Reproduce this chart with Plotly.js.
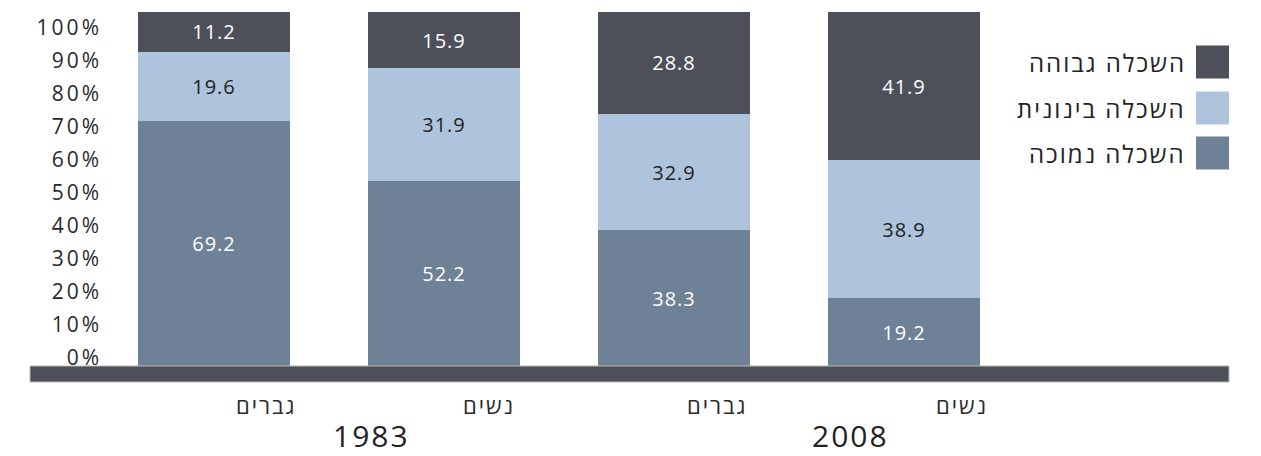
<!DOCTYPE html>
<html>
<head>
<meta charset="utf-8">
<script src="https://cdn.plot.ly/plotly-3.0.1.min.js"></script>
<style>
  html, body { margin: 0; padding: 0; background: #fff; }
  #chart { width: 1261px; height: 456px; }
  .y2tick text, .ytick text { letter-spacing: 3px; }
  text.bartext { letter-spacing: 1px; }
  text.annotation-text { letter-spacing: 2px; }
</style>
</head>
<body>
<div id="chart"></div>
<script>
// ---- data ----
const categories = ["גברים", "נשים", "גברים", "נשים"];
const years = ["1983", "2008"];
const yearGroups = [[0, 1], [2, 3]];
const seriesNames = ["השכלה נמוכה", "השכלה בינונית", "השכלה גבוהה"];
const lowEdu = [69.2, 52.2, 38.3, 19.2];
const midEdu = [19.6, 31.9, 32.9, 38.9];
const highEdu = [11.2, 15.9, 28.8, 41.9];
const yTickValues = [0, 10, 20, 30, 40, 50, 60, 70, 80, 90, 100];

// ---- style ----
const colors = ["#6e8197", "#aec4dc", "#4d5058"];
const textColors = ["#ffffff", "#222222", "#ffffff"];
const FONT = "'Open Sans', 'Noto Sans', 'DejaVu Sans', sans-serif";
const catShift = [52, 45, 43, 58];   // px offset of category labels (as in original)
const yearShift = [42, 61];          // px offset of year labels
const seriesValues = [lowEdu, midEdu, highEdu];
const xIdx = categories.map((c, i) => i);

const traces = seriesValues.map((vals, s) => ({
  type: "bar",
  x: xIdx,
  y: vals,
  name: seriesNames[s],
  marker: { color: colors[s], line: { width: 0 } },
  text: vals.map(v => v.toFixed(1)),
  textposition: "inside",
  insidetextanchor: "middle",
  textangle: 0,
  constraintext: "none",
  textfont: { family: FONT, size: 20, color: textColors[s] },
  hoverinfo: "skip",
  showlegend: false,
  width: 0.661
}));
// helper (no data) so that the percentage axis is drawn
traces.push({ type: "scatter", mode: "markers", x: [], y: [], yaxis: "y2",
  hoverinfo: "skip", showlegend: false });

// plot area geometry (pixels) : left 108, right 1228, top 12, bottom 366
const PL = 108, PR = 1228, PT = 12, PB = 366;
const PW = PR - PL, PH = PB - PT;
const px2x = p => (p - PL) / PW;
const py2y = p => (PB - p) / PH;

const shapes = [
  { type: "rect", xref: "paper", yref: "paper", x0: px2x(30), x1: px2x(1229), y0: py2y(366), y1: py2y(382),
    fillcolor: "#4d5058", line: { color: "#b8b8b8", width: 1 }, layer: "above" }
];
const annotations = [];

// legend (right-to-left: square on the right of the text)
const legendOrder = [2, 1, 0];
const legendCenters = [62, 108, 153];
legendOrder.forEach((s, k) => {
  const cy = legendCenters[k];
  shapes.push({ type: "rect", xref: "paper", yref: "paper",
    x0: px2x(1196), x1: px2x(1229), y0: py2y(cy + 16.5), y1: py2y(cy - 16.5),
    fillcolor: colors[s], line: { width: 0 } });
  annotations.push({ xref: "paper", yref: "paper", x: px2x(1188), y: py2y(cy),
    xanchor: "right", yanchor: "middle", showarrow: false, text: seriesNames[s],
    font: { family: FONT, size: 24, color: "#222" } });
});

categories.forEach((c, i) => {
  annotations.push({ xref: "x", yref: "paper", x: i, y: py2y(405), xshift: catShift[i],
    xanchor: "center", yanchor: "middle", showarrow: false, text: c,
    font: { family: FONT, size: 22, color: "#2a2a2a" } });
});
years.forEach((yr, g) => {
  const mid = (yearGroups[g][0] + yearGroups[g][1]) / 2;
  annotations.push({ xref: "x", yref: "paper", x: mid, y: py2y(435), xshift: yearShift[g],
    xanchor: "center", yanchor: "middle", showarrow: false, text: yr,
    font: { family: FONT, size: 30, color: "#222" } });
});

// percentage labels: 0% at y=358px, 100% at y=28px
const pxPerUnit = (358 - 28) / 100;
const y2lo = -(PB - 358) / pxPerUnit;
const y2hi = y2lo + PH / pxPerUnit;

const layout = {
  width: 1261, height: 456,
  margin: { l: PL, r: 1261 - PR, t: PT, b: 456 - PB, pad: 0 },
  paper_bgcolor: "#ffffff", plot_bgcolor: "rgba(0,0,0,0)",
  barmode: "stack",
  showlegend: false,
  xaxis: { range: [(PL - 214) / 230, (PR - 214) / 230], showgrid: false, zeroline: false,
    showline: false, showticklabels: false, ticks: "", fixedrange: true },
  yaxis: { range: [0, 100], showgrid: false, zeroline: false, showline: false,
    showticklabels: false, ticks: "", fixedrange: true },
  yaxis2: { overlaying: "y", side: "left", range: [y2lo, y2hi], tickvals: yTickValues,
    ticktext: yTickValues.map(v => v + "%"), showgrid: false, zeroline: false, showline: false,
    ticks: "", ticklabelstandoff: 5, tickfont: { family: FONT, size: 21, color: "#2a2a2a" },
    fixedrange: true },
  shapes: shapes,
  annotations: annotations,
  font: { family: FONT }
};

Plotly.newPlot("chart", traces, layout, { displayModeBar: false, staticPlot: true });
</script>
</body>
</html>
